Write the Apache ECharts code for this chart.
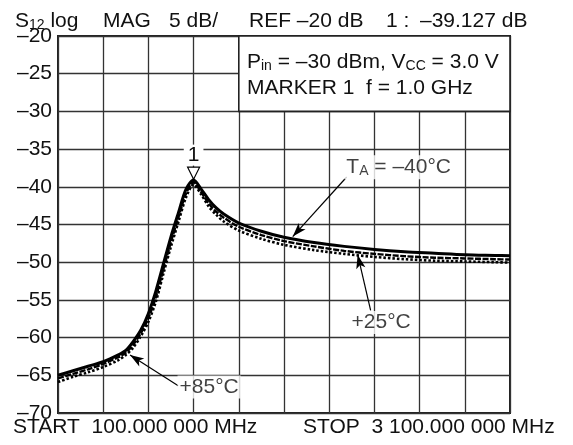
<!DOCTYPE html>
<html>
<head>
<meta charset="utf-8">
<script src="https://cdn.jsdelivr.net/npm/echarts@6/dist/echarts.min.js"></script>
<style>
  html, body { margin: 0; padding: 0; background: #fff; }
  #chart { width: 573px; height: 445px; }
</style>
</head>
<body>
<div id="chart"></div>
<script>
// frequency in MHz, S12 in dB
var freq = [100, 200, 300, 400, 500, 550, 600, 650, 700, 750, 800, 850, 900, 950, 1000,
            1050, 1100, 1150, 1200, 1300, 1450, 1600, 1800, 2000, 2200, 2400, 2600, 2800, 3000, 3100];
var tMinus40 = [-65.0, -64.4, -63.8, -63.2, -62.3, -61.7, -60.5, -59.0, -56.8, -53.8, -50.2, -46.6, -43.4, -40.3, -39.1,
                -40.3, -41.7, -42.8, -43.6, -44.8, -45.9, -46.7, -47.4, -47.9, -48.3, -48.6, -48.8, -49.0, -49.1, -49.15];
var t25 = [-65.4, -64.8, -64.2, -63.5, -62.6, -62.0, -60.9, -59.4, -57.4, -54.6, -50.9, -47.3, -44.0, -40.9, -39.4,
           -40.7, -42.2, -43.3, -44.1, -45.3, -46.4, -47.2, -47.9, -48.5, -48.9, -49.2, -49.4, -49.5, -49.6, -49.65];
var t85 = [-65.9, -65.2, -64.6, -63.9, -63.0, -62.3, -61.3, -59.8, -57.9, -55.2, -51.5, -47.9, -44.6, -41.4, -39.7,
           -41.0, -42.6, -43.7, -44.6, -45.8, -46.9, -47.7, -48.4, -48.9, -49.3, -49.6, -49.8, -49.9, -50.0, -50.05];

var markerAt = [1000, -39.127];
var boxArea = [[1300, -20], [3100, -30]];

// annotation labels and their arrows (data coords)
var noteText = ['T{a|A} = –40°C', '+25°C', '+85°C'];
var noteAt = [[2361, -37.4], [2245, -58.0], [1103, -66.55]];
var arrowFrom = [[2016, -38.7], [2175, -56.4], [898, -66.4]];
var arrowTo = [[1658, -46.6], [2089, -49.0], [578, -62.3]];

var FONT = 'Liberation Sans, Arial, sans-serif';
var chart = echarts.init(document.getElementById('chart'));

function pairs(ys) {
    return freq.map(function (f, i) { return [f, ys[i]]; });
}

function txt(x, y, s) {
    return {
        type: 'text', x: x, y: y, z: 100,
        style: {
            text: s, fill: '#111', font: '21px ' + FONT,
            verticalAlign: 'middle',
            rich: { s: { fontSize: 14, fontFamily: FONT, verticalAlign: 'bottom', padding: [8, 0, 0, 0] } }
        }
    };
}

var option = {
    animation: false,
    backgroundColor: '#fff',
    textStyle: { fontFamily: FONT },
    grid: { left: 58, right: 63, top: 36, bottom: 32, show: true, borderColor: '#222', borderWidth: 2 },
    xAxis: [{
        type: 'value', min: 100, max: 3100,
        axisLine: { show: false }, axisTick: { show: false }, axisLabel: { show: false },
        splitLine: { show: false }
    }, {
        // 10 screen divisions
        type: 'value', min: 0, max: 10, interval: 1,
        axisLine: { show: false }, axisTick: { show: false }, axisLabel: { show: false },
        splitLine: { show: true, lineStyle: { color: '#333', width: 1.3 } }
    }],
    yAxis: {
        type: 'value', min: -70, max: -20, interval: 5,
        axisLine: { show: false }, axisTick: { show: false },
        axisLabel: {
            fontSize: 21, color: '#111', margin: 6, fontFamily: FONT,
            formatter: function (v) { return String(v).replace('-', '–'); }
        },
        splitLine: { show: true, lineStyle: { color: '#333', width: 1.3 } }
    },
    graphic: [
        txt(15, 21, 'S{s|12} log'),
        txt(103, 21, 'MAG'),
        txt(169, 21, '5 dB/'),
        txt(249, 21, 'REF –20 dB'),
        txt(386, 21, '1 :'),
        txt(420, 21, '–39.127 dB'),
        txt(247, 62, 'P{s|in} = –30 dBm, V{s|CC} = 3.0 V'),
        txt(247, 88, 'MARKER 1  f = 1.0 GHz'),
        txt(13, 427, 'START  100.000 000 MHz'),
        txt(303, 427, 'STOP  3 100.000 000 MHz')
    ],
    series: [{
        name: '+85°C', type: 'line', data: pairs(t85), smooth: 0.3,
        symbol: 'none', z: 3,
        lineStyle: { color: '#000', width: 2.6, type: [2.5, 2] }
    }, {
        name: '+25°C', type: 'line', data: pairs(t25), smooth: 0.3,
        symbol: 'none', z: 4,
        lineStyle: { color: '#000', width: 2.4, type: [6, 1.5] }
    }, {
        name: '–40°C', type: 'line', data: pairs(tMinus40), smooth: 0.3,
        symbol: 'none', z: 5,
        lineStyle: { color: '#000', width: 3 },
        markArea: {
            silent: true,
            itemStyle: { color: '#fff', borderColor: '#222', borderWidth: 1.6 },
            data: [[{ coord: boxArea[0] }, { coord: boxArea[1] }]]
        },
        markPoint: {
            silent: true,
            data: [{
                coord: markerAt, symbol: 'triangle', symbolRotate: 180,
                symbolSize: [12, 12], symbolOffset: [0, -7],
                itemStyle: { color: '#fff', borderColor: '#000', borderWidth: 1.2 },
                label: {
                    show: true, position: 'top', distance: 1, formatter: '1',
                    fontSize: 21, color: '#111', fontFamily: FONT,
                    backgroundColor: '#fff', padding: [0, 4]
                }
            }]
        },
        markLine: {
            silent: true, symbol: ['none', 'arrow'], symbolSize: [7, 14],
            lineStyle: { color: '#000', width: 1.2, type: 'solid' },
            label: { show: false },
            data: arrowFrom.map(function (p, i) {
                return [{ coord: p }, { coord: arrowTo[i] }];
            })
        }
    }, {
        name: 'notes', type: 'scatter', symbolSize: 0, z: 6, silent: true,
        data: noteAt.map(function (p, i) { return { value: p, name: noteText[i] }; }),
        label: {
            show: true, position: 'inside', color: '#111', fontSize: 21, fontFamily: FONT,
            backgroundColor: '#fff', padding: [1, 2],
            formatter: function (p) { return p.name; },
            rich: { a: { fontSize: 14, fontFamily: FONT, verticalAlign: 'bottom', padding: [8, 0, 0, 0] } }
        }
    }]
};
chart.setOption(option);
</script>
</body>
</html>
